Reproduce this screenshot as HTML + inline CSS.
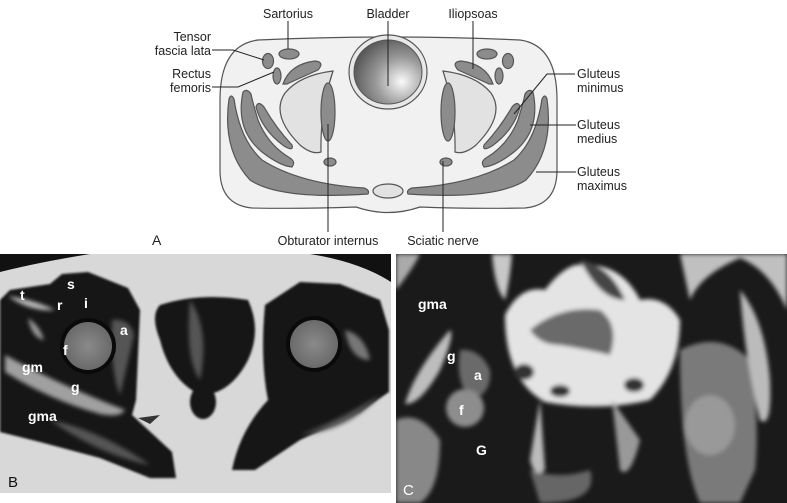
<!DOCTYPE html>
<html><head><meta charset="utf-8"><style>
html,body{margin:0;padding:0;background:#fff}
svg{display:block}
text{font-family:"Liberation Sans",Arial,sans-serif}
</style></head><body>
<svg width="787" height="503" viewBox="0 0 787 503" xmlns="http://www.w3.org/2000/svg">
<defs>
<radialGradient id="bl" cx="0.7" cy="0.65" r="0.75">
<stop offset="0" stop-color="#fafafa"/><stop offset="0.5" stop-color="#9a9a9a"/><stop offset="1" stop-color="#555"/>
</radialGradient>
<filter id="b1"><feGaussianBlur stdDeviation="1"/></filter>
<filter id="b2"><feGaussianBlur stdDeviation="2"/></filter>
<filter id="b4"><feGaussianBlur stdDeviation="3"/></filter>
<radialGradient id="fh" cx="0.5" cy="0.5" r="0.5"><stop offset="0" stop-color="#8a8a8a"/><stop offset="1" stop-color="#6a6a6a"/></radialGradient>
<g id="half" stroke="#555" stroke-width="1.2">
<ellipse cx="268" cy="61" rx="5.5" ry="7.5" fill="#8c8c8c"/>
<ellipse cx="277" cy="76" rx="4" ry="8" fill="#8c8c8c"/>
<ellipse cx="289" cy="54" rx="10" ry="5" fill="#8c8c8c"/>
<path d="M283 84 Q290 64 315 61 Q325 62 318 70 Q300 78 287 84 Z" fill="#8c8c8c"/>
<path d="M333 71 Q300 75 285 93 Q270 115 300 145 Q312 155 321 152 Q320 110 333 71 Z" fill="#e2e2e2"/>
<ellipse cx="328" cy="112" rx="7" ry="29" fill="#8c8c8c"/>
<ellipse cx="330" cy="162" rx="6" ry="4" fill="#8c8c8c"/>
<path d="M229 99 Q222 150 250 180 Q280 200 368 194 Q370 190 364 188 Q300 184 262 160 Q240 140 234 99 Q231 93 229 99 Z" fill="#8c8c8c"/>
<path d="M243 92 Q235 130 262 152 Q280 166 292 167 Q296 162 290 158 Q268 145 258 120 Q252 100 251 94 Q247 88 243 92 Z" fill="#8c8c8c"/>
<path d="M256 107 Q262 130 284 146 Q294 152 292 145 Q276 128 264 107 Q258 100 256 107 Z" fill="#8c8c8c"/>
</g>
</defs>
<!-- Top diagram -->
<path d="M258 40 Q390 34 520 40 Q557 45 557 100 L557 170 Q557 205 525 208 Q470 209 420 207 Q388 218 356 207 Q300 209 252 208 Q220 205 220 170 L220 100 Q220 45 258 40 Z" fill="#f1f1f1" stroke="#555" stroke-width="1.2"/>
<use href="#half"/>
<use href="#half" transform="translate(776,0) scale(-1,1)"/>
<ellipse cx="388" cy="191" rx="15" ry="7" fill="#e2e2e2" stroke="#555" stroke-width="1.2"/>
<ellipse cx="388" cy="72" rx="39" ry="37" fill="#e8e8e8" stroke="#555" stroke-width="1.2"/>
<ellipse cx="388" cy="72" rx="34" ry="32" fill="url(#bl)" stroke="#555" stroke-width="1"/>
<g stroke="#222" stroke-width="1" fill="none">
<line x1="288" y1="21" x2="288" y2="49"/>
<line x1="388" y1="21" x2="388" y2="86"/>
<line x1="473" y1="21" x2="473" y2="69"/>
<polyline points="212,50 233,50 264,60"/>
<polyline points="212,87 238,87 274,72"/>
<polyline points="575,74 547,74 514,114"/>
<line x1="576" y1="125" x2="530" y2="125"/>
<line x1="576" y1="172" x2="536" y2="172"/>
<line x1="328" y1="124" x2="328" y2="232"/>
<line x1="443" y1="161" x2="443" y2="232"/>
</g>
<g font-size="12.5" fill="#222">
<text x="288" y="18" text-anchor="middle">Sartorius</text>
<text x="388" y="18" text-anchor="middle">Bladder</text>
<text x="473" y="18" text-anchor="middle">Iliopsoas</text>
<text x="211" y="41" text-anchor="end">Tensor</text>
<text x="211" y="55" text-anchor="end">fascia lata</text>
<text x="211" y="78" text-anchor="end">Rectus</text>
<text x="211" y="92" text-anchor="end">femoris</text>
<text x="577" y="78">Gluteus</text>
<text x="577" y="92">minimus</text>
<text x="577" y="129">Gluteus</text>
<text x="577" y="143">medius</text>
<text x="577" y="176">Gluteus</text>
<text x="577" y="190">maximus</text>
<text x="328" y="245" text-anchor="middle">Obturator internus</text>
<text x="443" y="245" text-anchor="middle">Sciatic nerve</text>
<text x="152" y="245" font-size="14">A</text>
</g>
<!-- Panel B -->
<svg x="0" y="254" width="391" height="239" viewBox="0 254 391 239">
<rect x="0" y="254" width="391" height="239" fill="#d8d8d8"/>
<path d="M0 254 L90 254 Q40 262 0 272 Z M310 254 L391 254 L391 282 Q360 262 310 254 Z" fill="#111"/>
<g filter="url(#b1)" fill="#141414">
<path d="M0 300 L10 290 L50 284 L62 274 L88 272 L128 288 L140 310 L136 400 L132 415 L172 452 L176 478 L150 478 L100 458 L40 442 L0 432 Z"/>
<path d="M160 305 Q200 292 248 300 Q262 330 248 360 Q230 395 200 395 Q170 380 160 340 Q150 315 160 305 Z"/>
<ellipse cx="203" cy="402" rx="13" ry="17"/>
<path d="M265 305 L300 282 L340 284 L380 300 L389 330 L389 392 L360 412 L300 440 L255 470 L232 470 Q240 430 268 400 Q260 360 265 305 Z"/>
</g>
<g filter="url(#b2)">
<path d="M5 355 Q60 385 125 410 Q120 418 100 414 Q50 400 5 372 Z" fill="#a0a0a0"/>
<path d="M28 318 Q40 326 44 340 Q32 338 28 318 Z" fill="#9a9a9a"/>
<path d="M8 296 Q35 300 55 310 Q30 312 8 296 Z" fill="#bbb"/>
<path d="M112 320 Q130 318 134 335 Q126 370 120 395 Q110 370 112 320 Z" fill="#555"/>
<path d="M190 300 Q210 330 200 380 Q185 360 190 300 Z" fill="#555"/>
<path d="M50 420 Q100 430 150 465 Q100 455 50 420 Z" fill="#555"/>
<path d="M300 435 Q340 420 380 395 Q350 430 300 435 Z" fill="#555"/>
<path d="M345 330 Q365 335 370 360 Q350 360 345 330 Z" fill="#777"/>
</g>
<circle cx="88" cy="346" r="28" fill="#0a0a0a"/>
<circle cx="88" cy="346" r="24" fill="url(#fh)"/>
<circle cx="314" cy="344" r="28" fill="#0a0a0a"/>
<circle cx="314" cy="344" r="24" fill="url(#fh)"/>
<path d="M138 418 L160 415 L150 424 Z" fill="#333"/>
<g fill="#fff" font-size="14" font-weight="bold">
<text x="20" y="300">t</text><text x="67" y="289">s</text><text x="57" y="310">r</text><text x="84" y="308">i</text>
<text x="120" y="335">a</text><text x="63" y="355">f</text><text x="22" y="372">gm</text><text x="71" y="392">g</text><text x="28" y="421">gma</text>
</g>
<text x="8" y="487" font-size="15" fill="#111">B</text>
</svg>
<!-- Panel C -->
<svg x="396" y="254" width="391" height="249" viewBox="396 254 391 249">
<rect x="396" y="254" width="391" height="249" fill="#1a1a1a"/>
<g filter="url(#b2)">
<path d="M396 254 L420 254 Q412 270 396 290 Z" fill="#aaa"/>
<path d="M492 254 L512 254 Q510 280 505 300 Q495 290 492 254 Z" fill="#c8c8c8"/>
<path d="M680 254 L787 254 L787 310 Q770 270 740 258 Q700 275 690 300 Z" fill="#c0c0c0"/>
<path d="M505 315 Q520 285 545 290 Q560 270 575 265 Q620 260 640 300 Q665 295 680 320 Q680 370 650 400 Q600 412 545 402 Q505 380 505 315 Z" fill="#e4e4e4"/>
<path d="M530 330 Q560 305 600 310 Q620 325 610 355 Q590 350 560 345 Q540 345 530 330 Z" fill="#6a6a6a"/>
<path d="M580 260 Q610 265 625 300 Q600 300 580 260 Z" fill="#444"/>
<ellipse cx="524" cy="372" rx="10" ry="8" fill="#333"/>
<ellipse cx="560" cy="391" rx="10" ry="6" fill="#333"/>
<ellipse cx="634" cy="385" rx="10" ry="7" fill="#333"/>
<path d="M450 330 Q455 335 440 370 Q420 405 405 404 Q415 370 450 330 Z" fill="#bdbdbd"/>
<path d="M460 350 Q480 348 490 370 Q492 395 470 400 Q455 380 460 350 Z" fill="#6a6a6a"/>
<path d="M396 420 Q420 410 440 440 Q440 490 420 503 L396 503 Z" fill="#888"/>
<path d="M680 350 Q720 330 750 360 Q760 420 755 470 L740 503 L700 503 Q680 460 680 350 Z" fill="#7a7a7a"/>
<path d="M740 290 Q765 320 770 380 Q772 430 760 420 Q745 360 740 290 Z" fill="#bbb"/>
<path d="M530 470 Q560 480 590 470 Q600 503 540 503 Z" fill="#666"/>
<path d="M540 400 L545 470 Q535 480 530 460 Z" fill="#bbb"/>
<path d="M612 400 L620 470 Q630 480 640 440 Z" fill="#999"/>
</g>
<circle cx="465" cy="408" r="19" fill="#8d8d8d" filter="url(#b2)"/>
<ellipse cx="710" cy="425" rx="25" ry="30" fill="#999" filter="url(#b2)"/>
<g fill="#fff" font-size="14" font-weight="bold">
<text x="418" y="309">gma</text><text x="447" y="361">g</text><text x="474" y="380">a</text><text x="459" y="415">f</text><text x="476" y="455">G</text>
</g>
<text x="403" y="495" font-size="15" fill="#fff">C</text>
</svg>
</svg>
</body></html>
